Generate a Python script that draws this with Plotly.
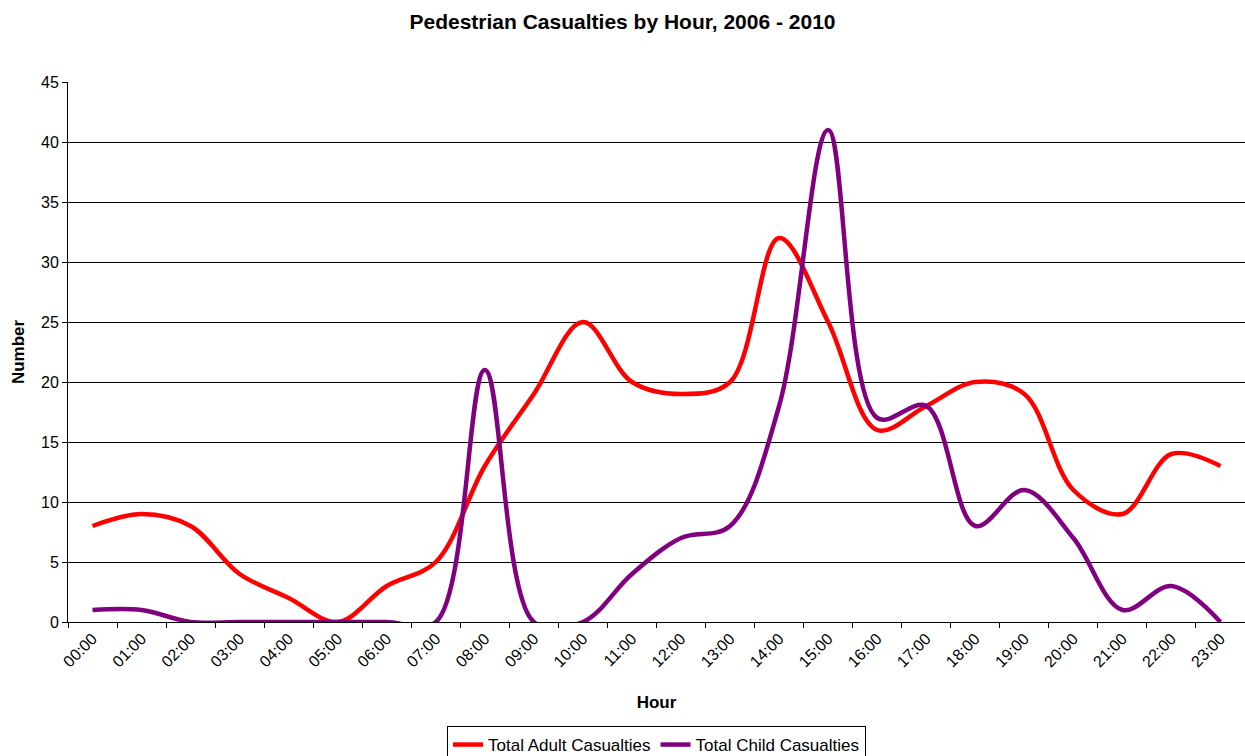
import plotly.graph_objects as go

# Hourly pedestrian casualty totals, 2006 - 2010
hours = [f"{h:02d}:00" for h in range(24)]
adult_casualties = [8, 9, 8, 4, 2, 0, 3, 5, 13, 19, 25, 20, 19, 20, 32, 25, 16, 18, 20, 19, 11, 9, 14, 13]
child_casualties = [1, 1, 0, 0, 0, 0, 0, 0, 21, 0, 0, 4, 7, 8, 18, 41, 17, 18, 8, 11, 7, 1, 3, 0]

FONT = "Liberation Sans, Arial, sans-serif"

fig = go.Figure()
fig.add_trace(go.Scatter(
    x=hours, y=adult_casualties, mode="lines", name="Total Adult Casualties",
    line=dict(color="#FF0000", width=4.5, shape="spline", smoothing=1.0),
))
fig.add_trace(go.Scatter(
    x=hours, y=child_casualties, mode="lines", name="Total Child Casualties",
    line=dict(color="#800080", width=4.5, shape="spline", smoothing=1.0),
))

fig.update_layout(
    width=1245, height=756,
    margin=dict(l=68, r=0, t=82, b=134, autoexpand=False),
    paper_bgcolor="white", plot_bgcolor="white",
    font=dict(family=FONT, size=16, color="black"),
    title=dict(text="<b>Pedestrian Casualties by Hour, 2006 - 2010</b>",
               x=0.5, xanchor="center", y=1 - 22 / 756, yanchor="middle",
               font=dict(size=21)),
    showlegend=True,
    legend=dict(orientation="h", x=0.5, xanchor="center",
                y=-(756 - 622 + 8) / 540, yanchor="bottom",
                bordercolor="black", borderwidth=1, bgcolor="white",
                font=dict(size=17), itemwidth=30, tracegroupgap=0),
)

fig.update_xaxes(
    type="category", range=[-0.5, 23.5], tickson="boundaries",
    tickangle=-45, ticks="outside", ticklen=5, tickcolor="black",
    showline=True, linecolor="black", linewidth=1, showgrid=False,
    tickfont=dict(size=16),
    title=dict(text="<b>Hour</b>", font=dict(size=17), standoff=26),
)
fig.update_yaxes(
    range=[0, 45], dtick=5, ticks="outside", ticklen=5, tickcolor="black",
    showline=True, linecolor="black", linewidth=1,
    showgrid=True, gridcolor="black", gridwidth=1, zeroline=False,
    tickfont=dict(size=16),
    title=dict(text="<b>Number</b>", font=dict(size=17), standoff=12),
)

fig.write_html("out.html")
